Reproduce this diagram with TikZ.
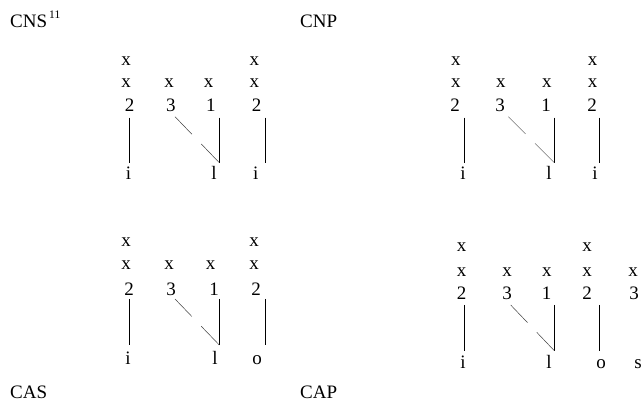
\documentclass[tikz,border=0pt]{standalone}
\usepackage{fontspec}
\setmainfont{Liberation Serif}
\begin{document}
\begin{tikzpicture}[x=1pt,y=-1pt]
\tikzset{
  t/.style={inner sep=0pt, anchor=base, font=\fontsize{19}{22}\selectfont},
  ttl/.style={inner sep=0pt, anchor=base west, font=\fontsize{19}{22}\selectfont},
  supr/.style={inner sep=0pt, anchor=base west, font=\fontsize{11.5}{13}\selectfont},
  stem/.style={line width=0.9pt, black},
  assoc/.style={line width=0.5pt, black!75, dash pattern=on 24.3pt off 13.5pt on 40pt}
}
\useasboundingbox (0,0) rectangle (643,406);

% titles
\node[ttl] (cns) at (10,28) {CNS};
\node[supr] (cnsn) at (49,18.3) {11};
\node[ttl] (cnp) at (300,28) {CNP};
\node[ttl] (cas) at (10,398) {CAS};
\node[ttl] (cap) at (300,398) {CAP};

% ---------- top left ----------
\node[t] (tl11) at (126,66) {x};
\node[t] (tl14) at (254.3,66) {x};
\node[t] (tl21) at (126,87.5) {x};
\node[t] (tl22) at (169,87.5) {x};
\node[t] (tl23) at (208.7,87.5) {x};
\node[t] (tl24) at (254.3,87.5) {x};
\node[t] (tl31) at (129.5,112) {2};
\node[t] (tl32) at (170.8,112) {3};
\node[t] (tl33) at (210.8,112) {1};
\node[t] (tl34) at (256.7,112) {2};
\node[t] (tl41) at (128.5,180) {i};
\node[t] (tl43) at (214,180) {l};
\node[t] (tl44) at (255.8,180) {i};
\coordinate (tla1) at (129.3,117.7);
\coordinate (tla2) at (129.3,162.7);
\coordinate (tlc1) at (219.3,117.7);
\coordinate (tlc2) at (219.3,162.7);
\coordinate (tld1) at (265,117.7);
\coordinate (tld2) at (265,162.7);
\coordinate (tlb) at (175,116.7);
\draw[stem] (tla1) -- (tla2);
\draw[stem] (tlc1) -- (tlc2);
\draw[stem] (tld1) -- (tld2);
\draw[assoc] (tlb) -- (tlc2);

% ---------- top right ----------
\node[t] (tr11) at (455.8,66) {x};
\node[t] (tr14) at (592.5,66) {x};
\node[t] (tr21) at (455.8,87.5) {x};
\node[t] (tr22) at (500.8,87.5) {x};
\node[t] (tr23) at (546.8,87.5) {x};
\node[t] (tr24) at (592.5,87.5) {x};
\node[t] (tr31) at (455,112) {2};
\node[t] (tr32) at (500,112) {3};
\node[t] (tr33) at (546,112) {1};
\node[t] (tr34) at (592,112) {2};
\node[t] (tr41) at (463,180) {i};
\node[t] (tr43) at (549,180) {l};
\node[t] (tr44) at (595,180) {i};
\coordinate (tra1) at (464,117.7);
\coordinate (tra2) at (464,162.7);
\coordinate (trc1) at (554.3,117.7);
\coordinate (trc2) at (554.3,162.7);
\coordinate (trd1) at (599.3,117.7);
\coordinate (trd2) at (599.3,162.7);
\coordinate (trb) at (508.3,116.7);
\draw[stem] (tra1) -- (tra2);
\draw[stem] (trc1) -- (trc2);
\draw[stem] (trd1) -- (trd2);
\draw[assoc] (trb) -- (trc2);

% ---------- bottom left ----------
\node[t] (bl11) at (126,246.7) {x};
\node[t] (bl14) at (254,246.7) {x};
\node[t] (bl21) at (126,270) {x};
\node[t] (bl22) at (169,270) {x};
\node[t] (bl23) at (210.7,270) {x};
\node[t] (bl24) at (254,270) {x};
\node[t] (bl31) at (129,295) {2};
\node[t] (bl32) at (171,295) {3};
\node[t] (bl33) at (214,295) {1};
\node[t] (bl34) at (256,295) {2};
\node[t] (bl41) at (128,364) {i};
\node[t] (bl43) at (215,364) {l};
\node[t] (bl44) at (257,364) {o};
\coordinate (bla1) at (129.3,299);
\coordinate (bla2) at (129.3,345);
\coordinate (blc1) at (219.3,299);
\coordinate (blc2) at (219.3,345);
\coordinate (bld1) at (265,299);
\coordinate (bld2) at (265,345);
\coordinate (blb) at (175,299);
\draw[stem] (bla1) -- (bla2);
\draw[stem] (blc1) -- (blc2);
\draw[stem] (bld1) -- (bld2);
\draw[assoc] (blb) -- (blc2);

% ---------- bottom right ----------
\node[t] (br11) at (461.7,251.7) {x};
\node[t] (br14) at (587,251.7) {x};
\node[t] (br21) at (461.7,276.7) {x};
\node[t] (br22) at (507.2,276.7) {x};
\node[t] (br23) at (546.8,276.7) {x};
\node[t] (br24) at (587,276.7) {x};
\node[t] (br25) at (633,276.7) {x};
\node[t] (br31) at (461.7,300) {2};
\node[t] (br32) at (507,300) {3};
\node[t] (br33) at (546.7,300) {1};
\node[t] (br34) at (587,300) {2};
\node[t] (br35) at (634,300) {3};
\node[t] (br41) at (463,368.3) {i};
\node[t] (br43) at (549,368.3) {l};
\node[t] (br44) at (601,368.3) {o};
\node[t] (br45) at (638,368.3) {s};
\coordinate (bra1) at (464,305);
\coordinate (bra2) at (464,350.7);
\coordinate (brc1) at (554.3,305);
\coordinate (brc2) at (554.3,350.7);
\coordinate (brd1) at (599.3,305);
\coordinate (brd2) at (599.3,350.7);
\coordinate (brb) at (510.7,305);
\draw[stem] (bra1) -- (bra2);
\draw[stem] (brc1) -- (brc2);
\draw[stem] (brd1) -- (brd2);
\draw[assoc] (brb) -- (brc2);
\end{tikzpicture}
\end{document}
